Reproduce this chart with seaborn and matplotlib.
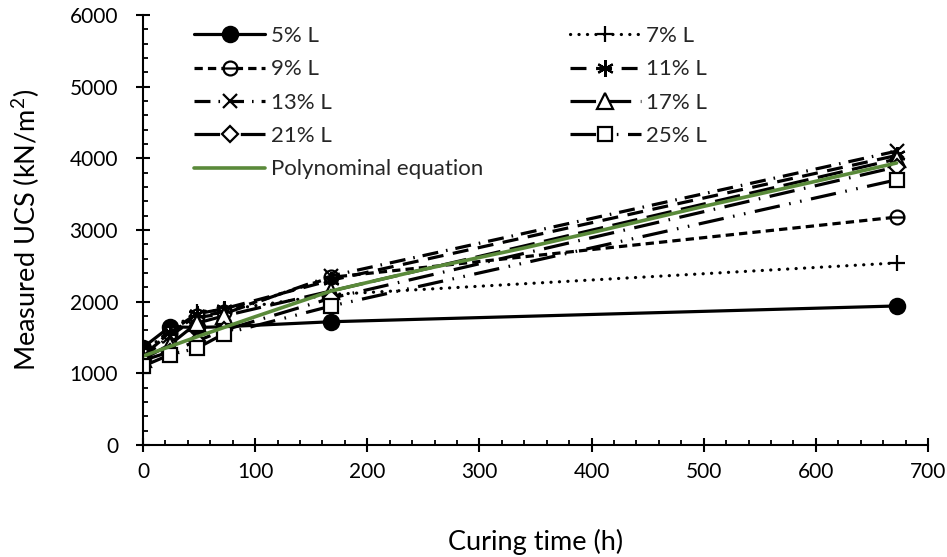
import matplotlib
matplotlib.use("Agg")
import matplotlib.pyplot as plt
from matplotlib.path import Path
from matplotlib.ticker import MultipleLocator
import seaborn as sns
import pandas as pd

# Curing times (h) and measured UCS (kN/m2) for each lime content
curing_h = [0, 24, 48, 72, 168, 672]
ucs_5 = [1360, 1650, 1640, 1650, 1720, 1940]
ucs_7 = [1290, 1600, 1860, 1880, 2100, 2540]
ucs_9 = [1250, 1560, 1800, 1850, 2340, 3180]
ucs_11 = [1230, 1580, 1830, 1900, 2300, 4040]
ucs_13 = [1220, 1520, 1780, 1830, 2360, 4100]
ucs_17 = [1200, 1400, 1700, 1800, 2150, 3990]
ucs_21 = [1180, 1300, 1450, 1600, 2050, 3880]
ucs_25 = [1100, 1260, 1350, 1550, 1940, 3700]

# Fitted polynomial curve sampled along the curing period
poly_h = [0, 50, 100, 168, 250, 340, 410, 500, 600, 672]
poly_ucs = [1240, 1520, 1790, 2150, 2450, 2750, 3000, 3330, 3680, 3935]

series_labels = ["5% L", "7% L", "9% L", "11% L", "13% L", "17% L", "21% L", "25% L"]
series_values = [ucs_5, ucs_7, ucs_9, ucs_11, ucs_13, ucs_17, ucs_21, ucs_25]

sns.set_theme(style="white")
plt.rcParams["font.family"] = ["Lato", "DejaVu Sans"]
plt.rcParams["mathtext.default"] = "regular"

# circle with a horizontal bar through it
bar_circle = Path.make_compound_path(
    Path.unit_circle(),
    Path([(-1.0, 0.0), (1.0, 0.0)], [Path.MOVETO, Path.LINETO]),
)

styles = {
    "5% L": dict(marker="o", ms=11, mfc="black", dashes=None),
    "7% L": dict(marker="+", ms=12, mfc="black", dashes=(0.05, 2.6)),
    "9% L": dict(marker=bar_circle, ms=10, mfc="white", dashes=(2.6, 1.6)),
    "11% L": dict(marker=(6, 2, 0), ms=12, mfc="black", dashes=(5, 3)),
    "13% L": dict(marker="x", ms=10, mfc="black", dashes=(5, 2.5, 0.5, 2.5)),
    "17% L": dict(marker="^", ms=11, mfc="white", dashes=(8, 3)),
    "21% L": dict(marker="D", ms=8, mfc="white", dashes=(8, 3, 0.5, 3)),
    "25% L": dict(marker="s", ms=10, mfc="white", dashes=(8, 3, 0.5, 3, 0.5, 3)),
}

fig = plt.figure(figsize=(9.47, 5.57), dpi=100)
ax = fig.add_axes([143 / 947, 1 - 445 / 557, (928 - 143) / 947, (445 - 15) / 557])

handles = {}
for label, values in zip(series_labels, series_values):
    st = styles[label]
    df = pd.DataFrame({"t": curing_h, "ucs": values})
    kws = dict(color="black", linewidth=2.3, marker=st["marker"], markersize=st["ms"],
               markerfacecolor=st["mfc"], markeredgecolor="black", markeredgewidth=1.6)
    sns.lineplot(data=df, x="t", y="ucs", ax=ax, legend=False, **kws)
    line = ax.lines[-1]
    if st["dashes"] is None:
        line.set_linestyle("-")
    else:
        line.set_linestyle((0, st["dashes"]))
    if label == "7% L":
        line.set_dash_capstyle("round")
    line.set_label(label)
    handles[label] = line

poly_df = pd.DataFrame({"t": poly_h, "ucs": poly_ucs})
sns.lineplot(data=poly_df, x="t", y="ucs", ax=ax, legend=False,
             color="#5a8a3a", linewidth=2.6)
poly_line = ax.lines[-1]
poly_line.set_label("Polynominal equation")
handles["Polynominal equation"] = poly_line

ax.set_xlim(0, 700)
ax.set_ylim(0, 6000)
ax.xaxis.set_major_locator(MultipleLocator(100))
ax.xaxis.set_minor_locator(MultipleLocator(20))
ax.yaxis.set_major_locator(MultipleLocator(1000))
ax.yaxis.set_minor_locator(MultipleLocator(200))

for side in ["top", "right"]:
    ax.spines[side].set_visible(False)
for side in ["left", "bottom"]:
    ax.spines[side].set_color("black")
    ax.spines[side].set_linewidth(1.5)

ax.tick_params(which="major", direction="inout", length=10, width=1.5,
               color="black", labelsize=15, labelcolor="black")
ax.tick_params(axis="x", which="major", pad=7)
ax.tick_params(axis="y", which="major", pad=13)
ax.tick_params(which="minor", direction="in", length=3.8, width=1.3, color="black")
ax.tick_params(which="both", bottom=True, left=True)

ax.set_xlabel("Curing time (h)", fontsize=19.5, color="black", labelpad=34)
ax.set_ylabel("Measured UCS (kN/m$^2$)", fontsize=19.5, color="black", labelpad=20)

order = ["5% L", "9% L", "13% L", "21% L", "Polynominal equation",
         "7% L", "11% L", "17% L", "25% L"]
fig.legend([handles[k] for k in order], order, loc="upper left",
           bbox_to_anchor=(194 / 947, 1 - 26 / 557), bbox_transform=fig.transFigure,
           ncol=2, frameon=False, fontsize=16, numpoints=1,
           handlelength=3.2, handletextpad=0.25, columnspacing=3.9,
           labelspacing=0.6, borderpad=0, borderaxespad=0)

fig.savefig("out.png", dpi=100)
